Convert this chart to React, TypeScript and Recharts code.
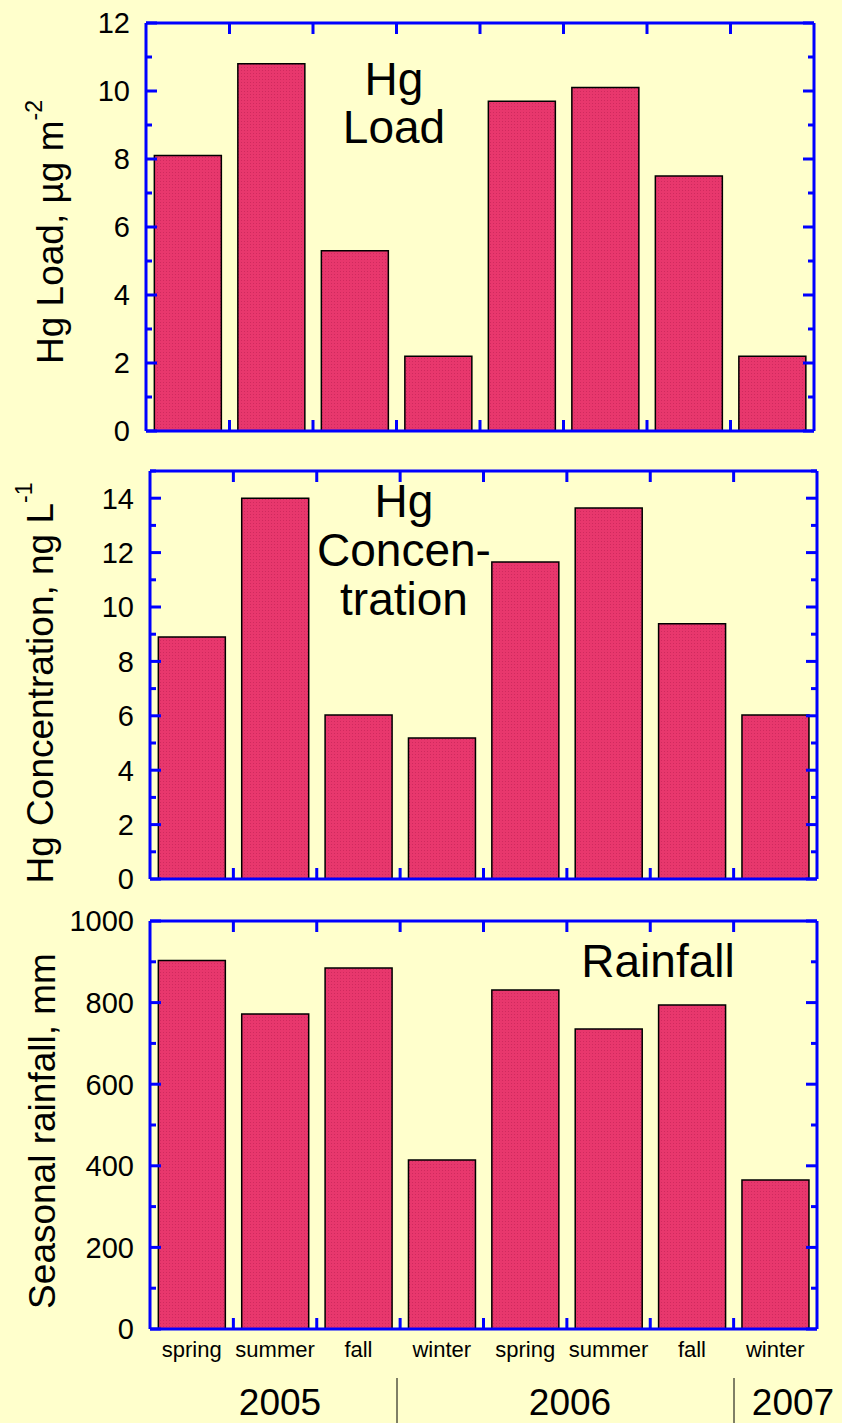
import React from 'react';
import { BarChart, Bar, XAxis, YAxis } from 'recharts';

// seasons sampled, Spring 2005 .. Winter 2006/07
const periods = ['sp05', 'su05', 'fa05', 'wi05', 'sp06', 'su06', 'fa06', 'wi06'];
const seasons = ['spring', 'summer', 'fall', 'winter', 'spring', 'summer', 'fall', 'winter'];
const hgLoad = [8.1, 10.8, 5.3, 2.2, 9.7, 10.1, 7.5, 2.2];
const hgConc = [8.9, 14.0, 6.03, 5.18, 11.65, 13.64, 9.38, 6.03];
const rainfall = [903, 772, 885, 414, 831, 735, 794, 365];
const years = ['2005', '2006', '2007'];

const loadTicks = [0, 1, 2, 3, 4, 5, 6, 7, 8, 9, 10, 11, 12];
const concTicks = [0, 1, 2, 3, 4, 5, 6, 7, 8, 9, 10, 11, 12, 13, 14, 15];
const rainTicks = [0, 100, 200, 300, 400, 500, 600, 700, 800, 900, 1000];

const BG = '#FFFFCC';
const AXIS = '#0000FF';
const BAR = '#E8376D';
const DOT = '#CF2A5E';
const FONT = '"Liberation Sans", Arial, Helvetica, sans-serif';

const rows = (values: number[]) => values.map((v, i) => ({ period: periods[i], value: v }));

interface PanelProps {
  id: string;
  values: number[];
  ticks: number[];
  major: number;
  top: number;
  height: number;
  plotLeft: number;
  plotRight: number;
  mt: number;
  mb: number;
  showSeasons?: boolean;
}

const Panel = ({ id, values, ticks, major, top, height, plotLeft, plotRight, mt, mb, showSeasons }: PanelProps) => {
  const bw = (plotRight - plotLeft) / values.length;
  const isMajor = (v: number) => v % major === 0;

  const leftTick = (p: any) => {
    const { x, y, payload } = p;
    const m = isMajor(payload.value);
    return (
      <g>
        <line x1={x} x2={x + (m ? 11 : 6)} y1={y} y2={y} stroke={AXIS} strokeWidth={3} />
        {m && (
          <text x={x - 16} y={y} dy="0.36em" textAnchor="end" fontSize={29} fontFamily={FONT} fill="#000">
            {payload.value}
          </text>
        )}
      </g>
    );
  };

  const rightTick = (p: any) => {
    const { x, y, payload } = p;
    const m = isMajor(payload.value);
    return <line x1={x} x2={x - (m ? 11 : 6)} y1={y} y2={y} stroke={AXIS} strokeWidth={3} />;
  };

  const topTick = (p: any) => {
    const { x, y, index } = p;
    if (index === values.length - 1) return <g />;
    return <line x1={x + bw / 2} x2={x + bw / 2} y1={y} y2={y + 11} stroke={AXIS} strokeWidth={3} />;
  };

  const bottomTick = (p: any) => {
    const { x, y, index } = p;
    return (
      <g>
        {index < values.length - 1 && (
          <line x1={x + bw / 2} x2={x + bw / 2} y1={y} y2={y - 11} stroke={AXIS} strokeWidth={3} />
        )}
        {showSeasons && (
          <text x={x} y={y + 28} textAnchor="middle" fontSize={22} fontFamily={FONT} fill="#000">
            {seasons[index]}
          </text>
        )}
      </g>
    );
  };

  return (
    <div style={{ position: 'absolute', left: 0, top, width: 842, height }}>
      <BarChart
        width={842}
        height={height}
        data={rows(values)}
        margin={{ top: mt - 1, right: 0, bottom: mb - 1, left: 0 }}
        barCategoryGap="10%"
        style={{ overflow: 'visible' }}
      >
        <defs>
          <pattern id={`dots-${id}`} width={3} height={3} patternUnits="userSpaceOnUse">
            <rect width={3} height={3} fill={BAR} />
            <rect x={1} y={1} width={1} height={1} fill={DOT} />
          </pattern>
        </defs>
        <XAxis
          dataKey="period"
          height={1}
          interval={0}
          tickSize={0}
          tickMargin={0}
          axisLine={{ stroke: AXIS, strokeWidth: 3 }}
          tickLine={false}
          tick={bottomTick}
        />
        <XAxis
          xAxisId="top"
          dataKey="period"
          orientation="top"
          height={1}
          interval={0}
          tickSize={0}
          tickMargin={0}
          axisLine={{ stroke: AXIS, strokeWidth: 3 }}
          tickLine={false}
          tick={topTick}
        />
        <YAxis
          width={plotLeft}
          domain={[ticks[0], ticks[ticks.length - 1]]}
          ticks={ticks}
          interval={0}
          tickSize={0}
          tickMargin={0}
          axisLine={{ stroke: AXIS, strokeWidth: 3 }}
          tickLine={false}
          tick={leftTick}
        />
        <YAxis
          yAxisId="right"
          orientation="right"
          width={842 - plotRight}
          domain={[ticks[0], ticks[ticks.length - 1]]}
          allowDataOverflow
          ticks={ticks}
          interval={0}
          tickSize={0}
          tickMargin={0}
          axisLine={{ stroke: AXIS, strokeWidth: 3 }}
          tickLine={false}
          tick={rightTick}
        />
        <Bar
          dataKey="value"
          fill={`url(#dots-${id})`}
          stroke="#000"
          strokeWidth={1.5}
          isAnimationActive={false}
        />
      </BarChart>
    </div>
  );
};

const txt = { fontFamily: FONT, fill: '#000' };

export default function App() {
  return (
    <div style={{ position: 'absolute', left: 0, top: 0, width: 842, height: 1423, background: BG, overflow: 'hidden' }}>
      <Panel id="load" values={hgLoad} ticks={loadTicks} major={2} top={0} height={450} plotLeft={146} plotRight={814} mt={23} mb={19} />
      <Panel id="conc" values={hgConc} ticks={concTicks} major={2} top={450} height={445} plotLeft={150} plotRight={817} mt={21} mb={16} />
      <Panel id="rain" values={rainfall} ticks={rainTicks} major={200} top={890} height={533} plotLeft={150} plotRight={817} mt={31} mb={94} showSeasons />

      <svg width={842} height={1423} style={{ position: 'absolute', left: 0, top: 0, pointerEvents: 'none' }}>
        <text transform="translate(63,232) rotate(-90)" textAnchor="middle" fontSize={37} {...txt}>
          Hg Load, µg m<tspan dy={-21} fontSize={23}>-2</tspan>
        </text>
        <text transform="translate(53,683) rotate(-90)" textAnchor="middle" fontSize={37} {...txt}>
          Hg Concentration, ng L<tspan dy={-21} fontSize={23}>-1</tspan>
        </text>
        <text transform="translate(55,1131) rotate(-90)" textAnchor="middle" fontSize={37} {...txt}>
          Seasonal rainfall, mm
        </text>

        <text x={394} y={95} textAnchor="middle" fontSize={46} {...txt}>Hg</text>
        <text x={394} y={143} textAnchor="middle" fontSize={46} {...txt}>Load</text>

        <text x={404} y={517} textAnchor="middle" fontSize={46} {...txt}>Hg</text>
        <text x={404} y={566} textAnchor="middle" fontSize={46} {...txt}>Concen-</text>
        <text x={404} y={615} textAnchor="middle" fontSize={46} {...txt}>tration</text>

        <text x={658} y={977} textAnchor="middle" fontSize={46} {...txt}>Rainfall</text>

        <text x={280} y={1415} textAnchor="middle" fontSize={37} {...txt}>{years[0]}</text>
        <text x={570} y={1415} textAnchor="middle" fontSize={37} {...txt}>{years[1]}</text>
        <text x={793} y={1415} textAnchor="middle" fontSize={37} {...txt}>{years[2]}</text>
        <line x1={397} x2={397} y1={1378} y2={1423} stroke="#000" strokeWidth={1} />
        <line x1={734} x2={734} y1={1378} y2={1423} stroke="#000" strokeWidth={1} />
      </svg>
    </div>
  );
}
